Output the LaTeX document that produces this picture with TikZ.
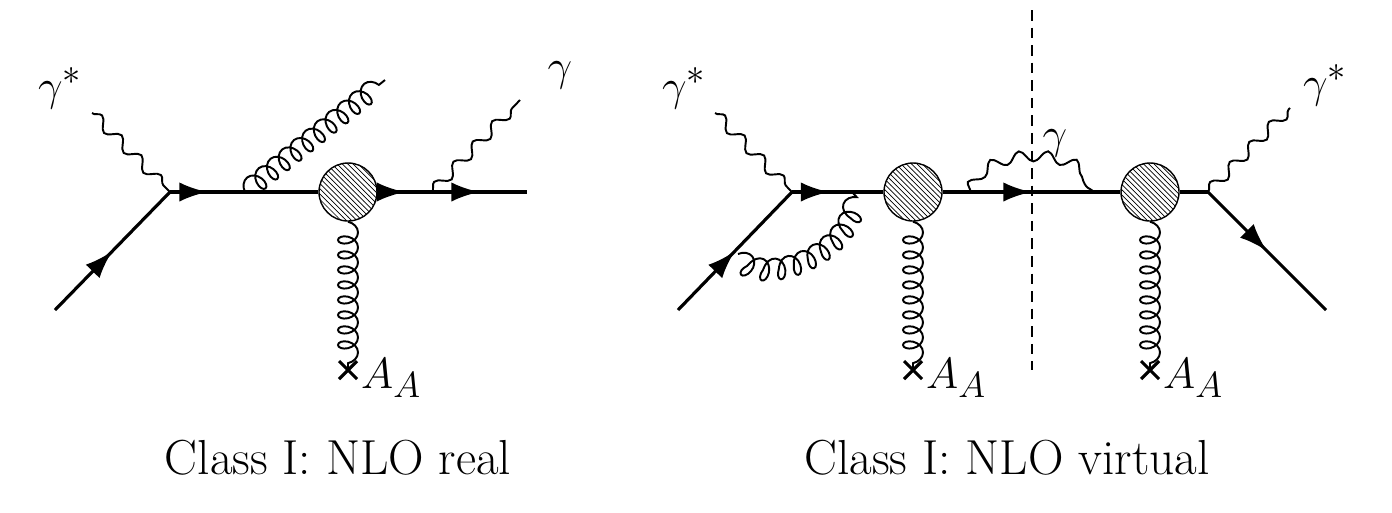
\documentclass[tikz,border=0pt]{standalone}
\usetikzlibrary{decorations.pathmorphing,decorations.markings,patterns,arrows.meta}

\tikzset{
  fermion/.style={line width=1.8pt, postaction={decorate},
    decoration={markings, mark=at position 0.5 with {\arrow{Latex[length=16pt,width=11pt]}}}},
  quark/.style={line width=1.8pt},
  photon/.style={line width=1.1pt, decorate,
    decoration={snake, amplitude=1.1mm, segment length=5.6mm}},
  gluon/.style={line width=1.1pt, decorate,
    decoration={coil, aspect=0.7, amplitude=2mm, segment length=3mm}},
  blob/.style={circle, draw, line width=0.8pt, fill=white, minimum size=1.16cm,
    path picture={\fill[pattern=north west lines] (path picture bounding box.south west) rectangle (path picture bounding box.north east);}},
  lbl/.style={font=\fontsize{28}{32}\selectfont}
}

\begin{document}
\begin{tikzpicture}[x=0.02cm, y=-0.02cm]
\useasboundingbox (0,0) rectangle (1392,512);

% NLO real
\coordinate (in1) at (55,310);
\coordinate (v1) at (170,192);
\coordinate (g1) at (245,192);
\coordinate (f1) at (245,192);
\coordinate (p1) at (432,192);
\coordinate (out1) at (527,192);
\coordinate (x1) at (348,370);
\node[blob] (b1) at (348,192) {};
\draw[fermion] (in1) -- (v1);
\draw[quark] (v1) -- (b1);
\draw[fermion] (v1) -- (f1);
\draw[fermion] (b1) -- (p1);
\draw[fermion] (p1) -- (out1);
\draw[photon] (92,113) coordinate (a1) -- (v1);
\draw[photon] (p1) -- (520,100) coordinate (a2);
\draw[gluon] (g1) -- (385,80) coordinate (a3);
\draw[gluon] (b1.south) -- (x1);
\draw[line width=1.8pt] (x1) ++(-9,-9) -- ++(18,18) (x1) ++(-9,9) -- ++(18,-18);
\node[lbl, anchor=west] (aa1) at (355,378) {$A_A$};
\node[lbl] (ga1) at (60,88) {$\gamma^*$};
\node[lbl] (ga2) at (560,75) {$\gamma$};
\node[lbl] (cap1) at (338,458) {Class I: NLO real};

% NLO virtual
\coordinate (in2) at (678,310);
\coordinate (v2) at (792,192);
\coordinate (gl) at (738,254);
\coordinate (gr) at (852,192);
\coordinate (pl) at (970,192);
\coordinate (pr) at (1092,192);
\coordinate (v3) at (1208,192);
\coordinate (out2) at (1326,310);
\coordinate (x2) at (913,370);
\coordinate (x3) at (1150,370);
\node[blob] (b2) at (913,192) {};
\node[blob] (b3) at (1150,192) {};
\draw[fermion] (in2) -- (v2);
\draw[fermion] (v2) -- (866,192);
\draw[quark] (866,192) -- (b2);
\draw[fermion] (b2) -- (b3);
\draw[quark] (b3) -- (v3);
\draw[fermion] (v3) -- (out2);
\draw[photon] (715,113) -- (v2);
\draw[photon] (v3) -- (1290,108);
\draw[gluon] (gl) .. controls (765,290) and (860,250) .. (gr);
\draw[photon] (pl) .. controls (985,152) and (1077,152) .. (pr);
\draw[gluon] (b2.south) -- (x2);
\draw[gluon] (b3.south) -- (x3);
\draw[line width=1.8pt] (x2) ++(-9,-9) -- ++(18,18) (x2) ++(-9,9) -- ++(18,-18);
\draw[line width=1.8pt] (x3) ++(-9,-9) -- ++(18,18) (x3) ++(-9,9) -- ++(18,-18);
\draw[line width=0.6pt, dash pattern=on 6pt off 4pt] (1032,10) -- (1032,370);
\node[lbl] (ga4) at (1055,143) {$\gamma$};
\node[lbl, anchor=west] (aa2) at (920,378) {$A_A$};
\node[lbl, anchor=west] (aa3) at (1157,378) {$A_A$};
\node[lbl] (ga3) at (684,88) {$\gamma^*$};
\node[lbl] (ga5) at (1325,85) {$\gamma^*$};
\node[lbl] (cap2) at (1007,458) {Class I: NLO virtual};
\end{tikzpicture}
\end{document}
